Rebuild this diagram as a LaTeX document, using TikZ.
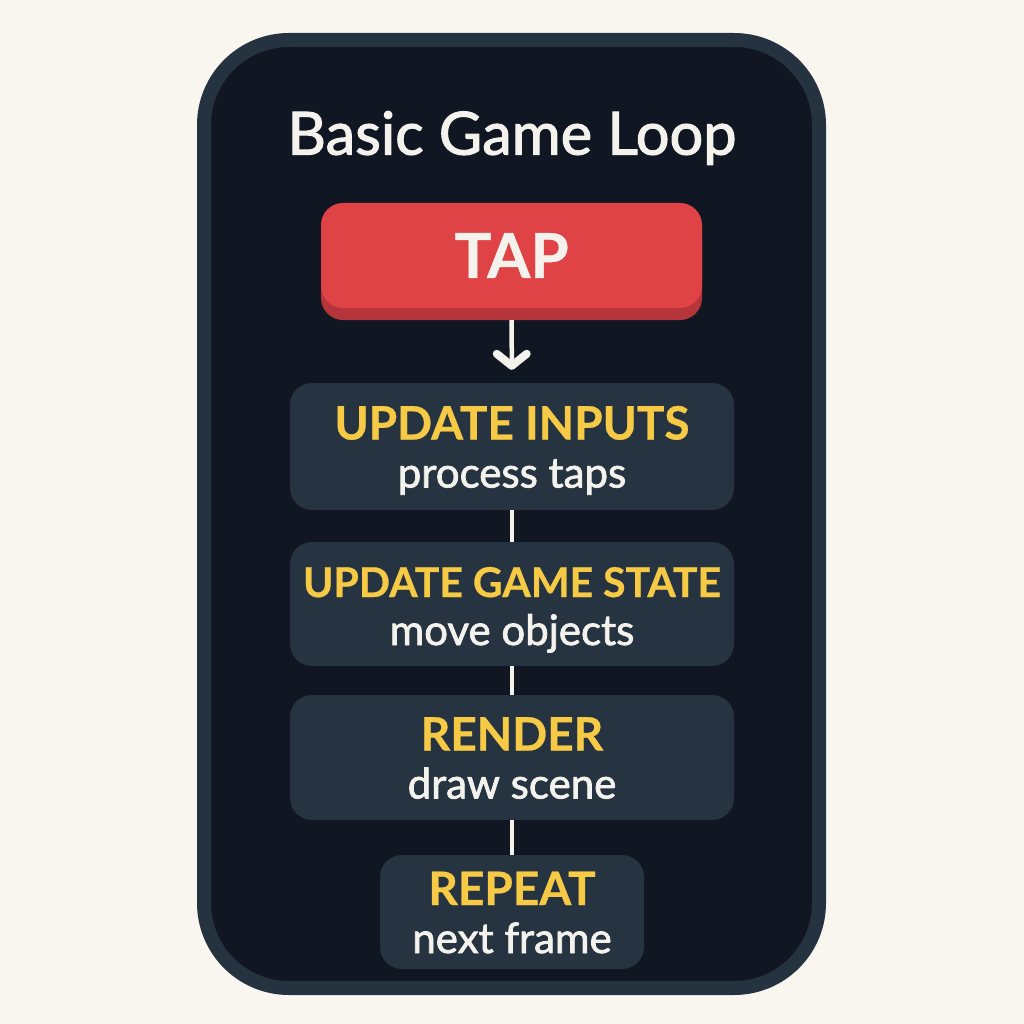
\documentclass[tikz,border=0pt]{standalone}
\usepackage{fontspec}
\setmainfont{Lato}
\newfontfamily\softfont[FakeBold=1.8]{Lato}
\newfontfamily\headfont[FakeBold=0.6]{Lato Bold}
\usetikzlibrary{arrows.meta,shadows,positioning}
\definecolor{paper}{HTML}{F8F6EF}
\definecolor{cardedge}{HTML}{253240}
\definecolor{cardfill}{HTML}{101722}
\definecolor{boxfill}{HTML}{263341}
\definecolor{tapred}{HTML}{E04345}
\definecolor{tapdark}{HTML}{B5353A}
\definecolor{gold}{HTML}{F6CA45}
\definecolor{txt}{HTML}{F4F2EC}
\newcommand\hd[2][46]{\rule{0pt}{45pt}{\headfont\fontsize{#1}{48}\selectfont\color{gold}#2}}
\newcommand\lo{\rule[-11pt]{0pt}{11pt}}

\begin{document}
\begin{tikzpicture}[%
    x=1pt, y=-1pt,
    >={Straight Barb[length=12pt,width=30pt,line width=8pt 0,round]},
    card/.style={draw=cardedge, fill=cardfill, line width=14pt, rounded corners=85pt},
    title/.style={text=txt, font=\softfont\fontsize{59.5}{60}\selectfont},
    tapbtn/.style={fill=tapred, rounded corners=22pt, minimum width=381pt,
      minimum height=105pt, text=txt, font=\headfont\fontsize{62}{64}\selectfont,
      drop shadow={fill=tapdark, opacity=1, shadow xshift=0pt, shadow yshift=-12pt}},
    stage/.style={fill=boxfill, rounded corners=22pt, minimum width=444pt,
      inner sep=0pt, align=center, text=txt, font=\softfont\fontsize{42}{48}\selectfont},
    link/.style={draw=txt, line width=4.5pt},
  ]
  \fill[paper] (0,0) rectangle (1024,1024);
  \path[card] (204,40) rectangle (819,988);

  \node[title] (title) at (512,138) {Basic Game Loop};
  \node[tapbtn] (tap) at (511.5,255.5) {TAP};
  \node[stage, minimum height=127pt] (1) at (512,446.5) {\hd{UPDATE INPUTS}\\process taps\lo};
  \node[stage, minimum height=124pt] (2) at (512,604) {\hd[41]{UPDATE GAME STATE}\\move objects\lo};
  \node[stage, minimum height=125pt] (3) at (512,757.5) {\hd{RENDER}\\draw scene\lo};
  \node[stage, minimum height=114pt, minimum width=264pt] (4) at (512,912) {\hd{REPEAT}\\next frame\lo};

  \path[link]
    (tap) edge [->, shorten <=12pt, shorten >=13pt] (1)
    (1) edge (2)
    (2) edge (3)
    (3) edge (4)
    ;
\end{tikzpicture}
\end{document}
